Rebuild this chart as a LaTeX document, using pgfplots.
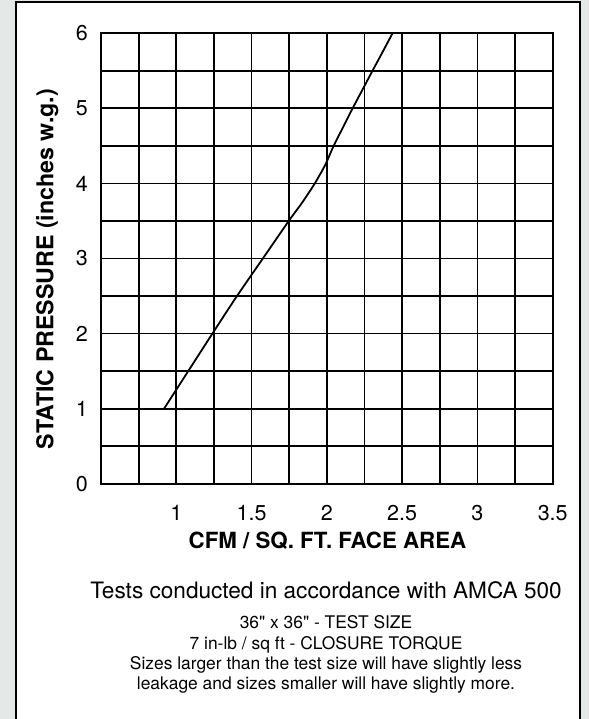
\documentclass[border=0pt]{standalone}
\usepackage{fontspec}
\setmainfont{TeX Gyre Heros}
\usepackage{pgfplots}
\pgfplotsset{compat=1.18}
\definecolor{bgray}{RGB}{228,233,232}
\begin{document}
\begin{tikzpicture}[x=1pt,y=1pt]
\path[use as bounding box] (0,0) rectangle (589,719);
\fill[bgray] (0,0) rectangle (589,719);
\draw[line width=2pt, fill=white] (15.7,-10) rectangle (579.5,717);
\begin{axis}[
  at={(101pt,235.3pt)}, anchor=south west,
  scale only axis, width=451.7pt, height=450.4pt,
  xmin=0.5, xmax=3.5, ymin=0, ymax=6,
  xtick={1,1.5,2,2.5,3,3.5},
  minor xtick={0.5,0.75,1.25,1.75,2.25,2.75,3.25},
  ytick={0,1,2,3,4,5,6},
  minor ytick={0.5,1.5,2.5,3.5,4.5,5.5},
  grid=both,
  major grid style={black, line width=1.8pt},
  minor grid style={black, line width=1.8pt},
  axis line style={black, line width=1.8pt},
  tick style={draw=none},
  /pgf/number format/assume math mode=true,
  ticklabel style={font=\fontsize{21.5}{22}\selectfont, inner sep=0pt},
  xticklabel style={anchor=north, yshift=-21pt},
  yticklabel style={anchor=east, xshift=-13pt},
]
\addplot[black, line width=1.8pt, smooth, tension=0.4] coordinates {
(0.919,1) (1.24,2) (1.403,2.5) (1.575,3) (1.747,3.5) (1.838,3.75)
(1.92,4) (1.99,4.25) (2.045,4.5) (2.108,4.75) (2.171,5) (2.237,5.25)
(2.303,5.5) (2.37,5.75) (2.436,6)
};
\end{axis}
\node[anchor=base, font=\fontsize{22.3}{23}\selectfont\bfseries] at (327.5,170.7) {CFM / SQ. FT. FACE AREA};
\node[anchor=base, rotate=90, font=\fontsize{23.2}{24}\selectfont\bfseries] at (53.3,450) {STATIC PRESSURE (inches w.g.)};
\node[anchor=base, font=\fontsize{22.6}{23}\selectfont] at (326,120.7) {Tests conducted in accordance with AMCA 500};
\node[anchor=base, font=\fontsize{17.4}{18}\selectfont] at (326,90) {36\textquotedbl{} x 36\textquotedbl{} - TEST SIZE};
\node[anchor=base, font=\fontsize{17.4}{18}\selectfont] at (326,69.5) {7 in-lb / sq ft - CLOSURE TORQUE};
\node[anchor=base, font=\fontsize{17.4}{18}\selectfont] at (326,49) {Sizes larger than the test size will have slightly less};
\node[anchor=base, font=\fontsize{17.4}{18}\selectfont] at (326,29) {leakage and sizes smaller will have slightly more.};
\end{tikzpicture}
\end{document}
